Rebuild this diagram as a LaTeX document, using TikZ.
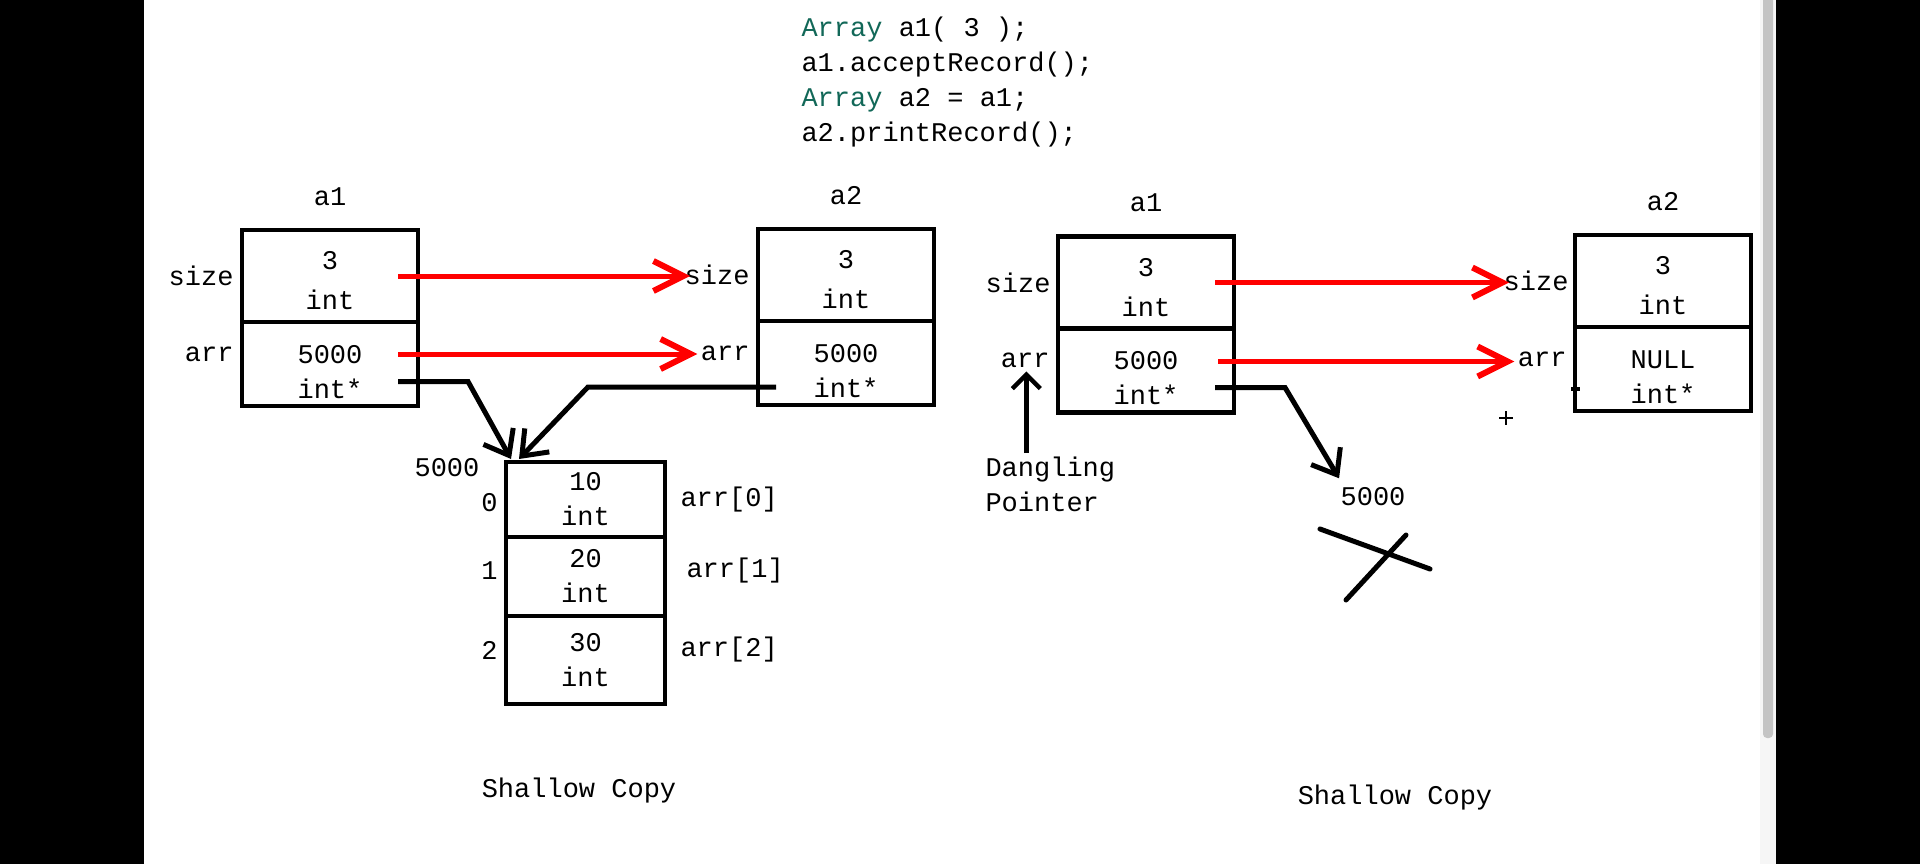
\documentclass[tikz,border=0pt]{standalone}
\usepackage{fontspec}
\setmainfont{Liberation Mono}
\usetikzlibrary{arrows.meta,positioning}
\definecolor{codegreen}{RGB}{18,104,88}
\definecolor{thumbgray}{RGB}{196,196,196}
\definecolor{trackgray}{RGB}{246,246,246}

\begin{document}
\begin{tikzpicture}[x=1pt,y=-1pt,
  font=\fontsize{27}{35}\selectfont,
  cell/.style={draw=black, line width=4.5pt, minimum width=176pt, align=center, outer sep=0pt, inner sep=0pt},
  topcell/.style={cell, minimum height=92pt},
  botcell/.style={cell, minimum height=84pt},
  slot/.style={draw=black, line width=4.5pt, minimum width=159pt, align=center, outer sep=0pt, inner sep=0pt},
  copyline/.style={draw=red, line width=5pt, -{Straight Barb[length=30pt,width=30pt,line width=6pt]}},
  ptr/.style={line width=5pt, -{Straight Barb[length=22pt,width=34pt]}},
  upptr/.style={line width=4.5pt, -{Straight Barb[length=14pt,width=28pt]}}]
\useasboundingbox (0,0) rectangle (1920,864);
\fill[white] (0,0) rectangle (1920,864);
\fill[black] (0,0) rectangle (144,864);
\fill[black] (1776,0) rectangle (1920,864);
\fill[trackgray] (1760,0) rectangle (1776,864);
\fill[thumbgray, rounded corners=4pt] (1763,-10) rectangle (1773,738);

% code
\node[anchor=west, align=left] (code) at (798,82) {\textcolor{codegreen}{Array} a1( 3 );\\a1.acceptRecord();\\\textcolor{codegreen}{Array} a2 = a1;\\a2.printRecord();};

% left: a1, a2 and the array
\node[topcell, label={[label distance=21pt]above:a1}, label={[label distance=5pt]left:size}] (a1size) at (330,276) {\rule{0pt}{28pt}3\\[5pt]int};
\node[botcell, below=0pt of a1size, label={[label distance=5pt, yshift=10pt]left:arr}] (a1arr) {\rule{0pt}{34pt}5000\\int*};
\node[topcell, label={[label distance=21pt]above:a2}, label={[name=a2sizelbl, label distance=5pt]left:size}] (a2size) at (846,275) {\rule{0pt}{28pt}3\\[5pt]int};
\node[botcell, below=0pt of a2size, label={[name=a2arrlbl, label distance=5pt, yshift=10pt]left:arr}] (a2arr) {\rule{0pt}{34pt}5000\\int*};

\node[slot, minimum height=75pt, label={[label distance=5pt, yshift=-3pt]left:0}, label={[label distance=12pt]right:{arr[0]}}] (slot0) at (585.5,499.5) {10\\int};
\node[slot, minimum height=79pt, below=0pt of slot0, label={[label distance=5pt, yshift=6pt]left:1}, label={[label distance=18pt, yshift=6pt]right:{arr[1]}}] (slot1) {20\\int};
\node[slot, minimum height=88pt, below=0pt of slot1, label={[label distance=5pt, yshift=10pt]left:2}, label={[label distance=12pt, yshift=10pt]right:{arr[2]}}] (slot2) {30\\int};
\node (addr) at (447,468) {5000};
\node (capl) at (579,791) {Shallow Copy};

% right: after a2 is gone
\node[topcell, label={[label distance=21pt]above:a1}, label={[label distance=4pt]left:size}] (ra1size) at (1146,282.5) {\rule{0pt}{28pt}3\\[5pt]int};
\node[botcell, below=0pt of ra1size, label={[name=ra1arrlbl, label distance=5pt, yshift=10pt]left:arr}] (ra1arr) {\rule{0pt}{34pt}5000\\int*};
\node[topcell, label={[label distance=21pt]above:a2}, label={[name=ra2sizelbl, label distance=3pt]left:size}] (ra2size) at (1663,281) {\rule{0pt}{28pt}3\\[5pt]int};
\node[botcell, below=0pt of ra2size, label={[name=ra2arrlbl, label distance=5pt, yshift=10pt]left:arr}] (ra2arr) {\rule{0pt}{34pt}NULL\\int*};
\node[anchor=west, align=left] (dangle) at (982,484) {Dangling\\Pointer};
\node (dead) at (1373,497) {5000};
\node (capr) at (1395,798) {Shallow Copy};

\draw[copyline] ([xshift=-20pt]a1size.east) -- ([xshift=9pt]a1size.east -| a2sizelbl.west);
\draw[copyline] ([shift={(-20,-10)}]a1arr.east) -- ([yshift=10pt]a1arr.east -| a2arrlbl.west);
\draw[ptr] ([shift={(-20,17.5)}]a1arr.east) -- ++(70,0) -- ([shift={(5,-3)}]slot0.north west);
\draw[ptr] ([shift={(18,24)}]a2arr.west) -- ++(-188,0) -- ([shift={(13,-3)}]slot0.north west);

\draw[copyline] ([xshift=-19pt]ra1size.east) -- ([xshift=9pt]ra1size.east -| ra2sizelbl.west);
\draw[copyline] ([shift={(-16,-9)}]ra1arr.east) -- ([yshift=9pt]ra1arr.east -| ra2arrlbl.west);
\draw[ptr] ([shift={(-19,17)}]ra1arr.east) -- ++(70,0) -- ([shift={(2,-6)}]dead.north west);
\draw[upptr] ([xshift=-24pt]dangle.north) -- ([xshift=-24pt]dangle.north |- ra1arrlbl.south);
\draw[line width=4.5pt] ([shift={(-4,20)}]ra2arr.west) -- ++(9,0);

% freed block crossed out
\draw[line width=5pt, line cap=round] ([shift={(-53,32)}]dead.center) -- ([shift={(57,72)}]dead.center)
  ([shift={(-27,103)}]dead.center) -- ([shift={(33,38)}]dead.center);
\draw[line width=1.2pt] (1499,418) -- (1513,418) (1506,411) -- (1506,425);
\end{tikzpicture}
\end{document}
